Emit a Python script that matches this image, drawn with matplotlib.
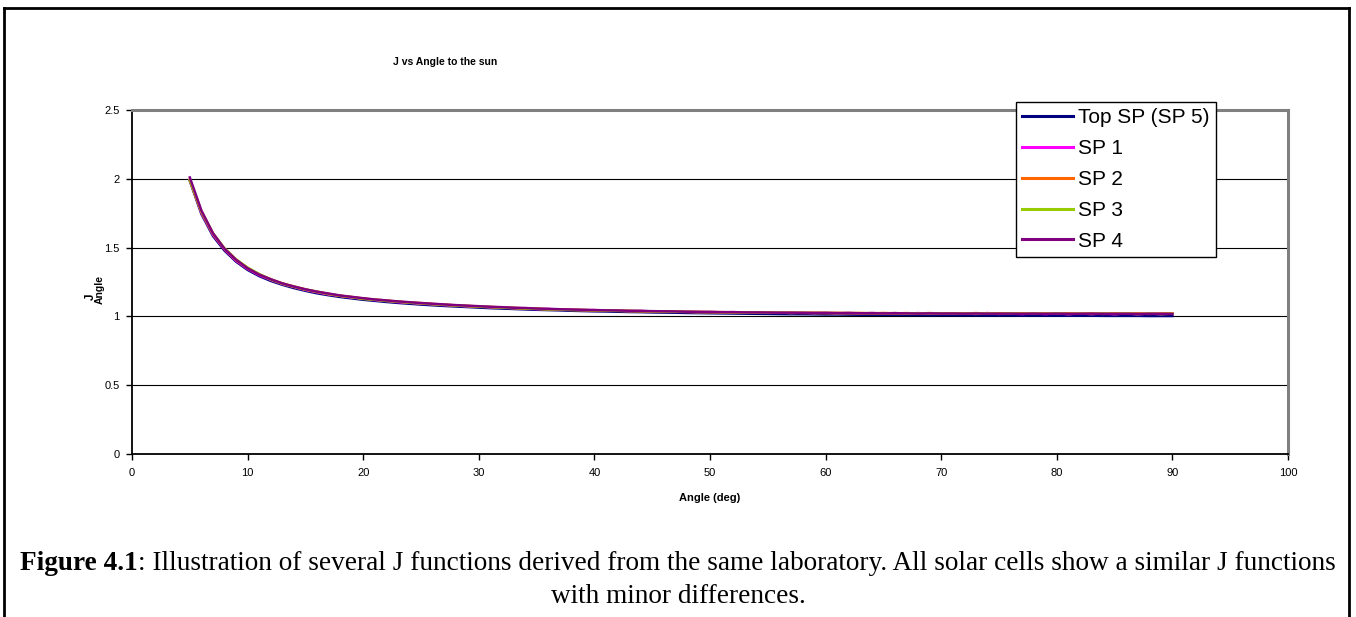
import matplotlib
matplotlib.use("Agg")
import matplotlib.pyplot as plt
from matplotlib.lines import Line2D

plt.rcParams['font.family'] = ['Liberation Sans', 'DejaVu Sans']

angles = list(range(5, 91))

top_sp = [1.985, 1.745, 1.585, 1.478, 1.398, 1.338, 1.293, 1.258, 1.230, 1.206,
          1.186, 1.168, 1.154, 1.141, 1.131, 1.121, 1.113, 1.105, 1.098, 1.092,
          1.086, 1.081, 1.076, 1.072, 1.068, 1.064, 1.060, 1.057, 1.054, 1.051,
          1.048, 1.046, 1.044, 1.041, 1.039, 1.037, 1.036, 1.034, 1.032, 1.031,
          1.029, 1.028, 1.027, 1.025, 1.024, 1.023, 1.022, 1.021, 1.020, 1.019,
          1.018, 1.017, 1.016, 1.016, 1.015, 1.014, 1.014, 1.013, 1.012, 1.012,
          1.011, 1.011, 1.010, 1.010, 1.009, 1.009, 1.008, 1.008, 1.008, 1.007,
          1.007, 1.007, 1.006, 1.006, 1.006, 1.005, 1.005, 1.005, 1.005, 1.004,
          1.004, 1.004, 1.004, 1.003, 1.003, 1.003]

sp1 = [1.995, 1.755, 1.595, 1.487, 1.405, 1.346, 1.300, 1.266, 1.236, 1.214,
       1.192, 1.176, 1.160, 1.149, 1.137, 1.130, 1.119, 1.113, 1.104, 1.100,
       1.092, 1.089, 1.082, 1.080, 1.073, 1.072, 1.066, 1.065, 1.060, 1.059,
       1.053, 1.054, 1.049, 1.049, 1.045, 1.046, 1.041, 1.042, 1.038, 1.040,
       1.035, 1.037, 1.033, 1.034, 1.031, 1.033, 1.029, 1.031, 1.027, 1.030,
       1.026, 1.028, 1.025, 1.027, 1.024, 1.027, 1.022, 1.026, 1.021, 1.025,
       1.021, 1.024, 1.020, 1.024, 1.019, 1.023, 1.019, 1.023, 1.018, 1.024,
       1.018, 1.022, 1.017, 1.023, 1.017, 1.022, 1.016, 1.022, 1.017, 1.021,
       1.016, 1.022, 1.016, 1.021, 1.017, 1.021]

sp2 = [1.990, 1.760, 1.600, 1.492, 1.410, 1.350, 1.305, 1.270, 1.240, 1.218,
       1.196, 1.178, 1.164, 1.150, 1.141, 1.130, 1.122, 1.116, 1.107, 1.101,
       1.097, 1.090, 1.086, 1.080, 1.077, 1.072, 1.069, 1.064, 1.062, 1.058,
       1.056, 1.052, 1.051, 1.047, 1.047, 1.043, 1.043, 1.040, 1.040, 1.037,
       1.037, 1.034, 1.035, 1.032, 1.033, 1.030, 1.031, 1.029, 1.030, 1.027,
       1.028, 1.026, 1.027, 1.025, 1.027, 1.024, 1.026, 1.023, 1.025, 1.022,
       1.025, 1.022, 1.024, 1.021, 1.024, 1.021, 1.023, 1.020, 1.024, 1.020,
       1.023, 1.020, 1.023, 1.019, 1.022, 1.019, 1.023, 1.019, 1.022, 1.018,
       1.022, 1.019, 1.022, 1.018, 1.021, 1.022]

sp3 = [1.992, 1.765, 1.605, 1.495, 1.415, 1.355, 1.308, 1.268, 1.238, 1.215,
       1.195, 1.180, 1.163, 1.150, 1.140, 1.127, 1.121, 1.112, 1.108, 1.099,
       1.095, 1.089, 1.084, 1.079, 1.075, 1.070, 1.068, 1.063, 1.061, 1.057,
       1.055, 1.051, 1.050, 1.047, 1.046, 1.044, 1.042, 1.041, 1.039, 1.039,
       1.036, 1.036, 1.034, 1.034, 1.031, 1.032, 1.030, 1.030, 1.028, 1.029,
       1.026, 1.028, 1.025, 1.027, 1.024, 1.026, 1.023, 1.025, 1.023, 1.024,
       1.022, 1.024, 1.021, 1.023, 1.021, 1.023, 1.020, 1.022, 1.020, 1.022,
       1.019, 1.022, 1.019, 1.021, 1.019, 1.022, 1.018, 1.021, 1.018, 1.022,
       1.018, 1.021, 1.017, 1.021, 1.017, 1.020]

sp4 = [2.010, 1.770, 1.605, 1.492, 1.412, 1.350, 1.304, 1.270, 1.240, 1.217,
       1.197, 1.180, 1.166, 1.152, 1.142, 1.132, 1.123, 1.116, 1.109, 1.103,
       1.097, 1.092, 1.087, 1.082, 1.078, 1.074, 1.070, 1.067, 1.063, 1.061,
       1.057, 1.055, 1.052, 1.050, 1.048, 1.046, 1.044, 1.043, 1.041, 1.040,
       1.038, 1.037, 1.036, 1.034, 1.033, 1.032, 1.031, 1.031, 1.029, 1.029,
       1.028, 1.027, 1.027, 1.026, 1.025, 1.025, 1.024, 1.024, 1.023, 1.023,
       1.022, 1.023, 1.022, 1.021, 1.022, 1.021, 1.021, 1.020, 1.021, 1.020,
       1.020, 1.020, 1.019, 1.020, 1.019, 1.020, 1.019, 1.019, 1.020, 1.019,
       1.019, 1.019, 1.018, 1.019, 1.019, 1.018]

series_names = ["Top SP (SP 5)", "SP 1", "SP 2", "SP 3", "SP 4"]
series_values = [top_sp, sp1, sp2, sp3, sp4]
series_colors = ["#000080", "#FF00FF", "#FF6600", "#99CC00", "#800080"]

x_ticks = [0, 10, 20, 30, 40, 50, 60, 70, 80, 90, 100]
y_ticks = [0, 0.5, 1, 1.5, 2, 2.5]
y_tick_labels = ["0", "0.5", "1", "1.5", "2", "2.5"]

W, H = 1356, 617
fig = plt.figure(figsize=(W / 100, H / 100), dpi=100)
fig.patch.set_facecolor("white")

ax = fig.add_axes([132 / W, (H - 454) / H, (1288 - 132) / W, (454 - 110) / H])

lines = []
for name, vals, col in zip(series_names, series_values, series_colors):
    ln, = ax.plot(angles, vals, color=col, lw=1.8, label=name, zorder=3)
    lines.append(ln)

ax.set_xlim(0, 100)
ax.set_ylim(0, 2.5)
ax.set_xticks(x_ticks)
ax.set_xticklabels([str(t) for t in x_ticks])
ax.set_yticks(y_ticks)
ax.set_yticklabels(y_tick_labels)
ax.tick_params(axis="both", labelsize=8, direction="out", length=4, width=1, colors="black")
ax.tick_params(axis="x", pad=6)
ax.tick_params(axis="y", pad=5)

for yv in [0.5, 1, 1.5, 2]:
    ax.axhline(yv, color="black", lw=0.8, zorder=1)

ax.spines["left"].set_color("black")
ax.spines["left"].set_linewidth(1.3)
ax.spines["bottom"].set_color("black")
ax.spines["bottom"].set_linewidth(1.3)
ax.spines["top"].set_color("#808080")
ax.spines["top"].set_linewidth(2.2)
ax.spines["right"].set_color("#808080")
ax.spines["right"].set_linewidth(2.2)

# axis labels
fig.text(710 / W, 1 - 498 / H, "Angle (deg)", fontsize=8, fontweight="bold",
         ha="center", va="center")
fig.text(91 / W, 1 - 297 / H, "J", fontsize=8.5, fontweight="bold",
         rotation=90, ha="center", va="center")
fig.text(100 / W, 1 - 289 / H, "Angle", fontsize=7.5, fontweight="bold",
         rotation=90, ha="center", va="center")

fig.text(445 / W, 1 - 62 / H, "J vs Angle to the sun", fontsize=7.5,
         fontweight="bold", ha="center", va="center")

leg = fig.legend(handles=lines, labels=series_names, loc="upper left",
                 bbox_to_anchor=(1016 / W, 1 - 102 / H), fontsize=15,
                 frameon=True, fancybox=False, framealpha=1, edgecolor="black",
                 handlelength=2.45, handletextpad=0.25, labelspacing=0.57,
                 borderpad=0.3, borderaxespad=0)
leg.get_frame().set_linewidth(1.0)
for lh in leg.get_lines():
    lh.set_linewidth(2.2)

# caption
serif = ["Liberation Serif", "DejaVu Serif"]
renderer = fig.canvas.get_renderer()
bold_part = "Figure 4.1"
rest_part = ": Illustration of several J functions derived from the same laboratory. All solar cells show a similar J functions"
cap_size = 19.6
t1 = fig.text(0, 1 - 570 / H, bold_part, fontsize=cap_size, fontweight="bold",
              family=serif, ha="left", va="baseline")
t2 = fig.text(0, 1 - 570 / H, rest_part, fontsize=cap_size, family=serif,
              ha="left", va="baseline")
w1 = t1.get_window_extent(renderer).width
w2 = t2.get_window_extent(renderer).width
x0 = (678 - (w1 + w2) / 2) / W
t1.set_x(x0)
t2.set_x(x0 + w1 / W)
fig.text(678 / W, 1 - 603 / H, "with minor differences.", fontsize=cap_size,
         family=serif, ha="center", va="baseline")

# figure frame
for xs, ys in [([4 / W, 4 / W], [0, 1 - 8 / H]),
               ([4 / W, 1349 / W], [1 - 8 / H, 1 - 8 / H]),
               ([1349 / W, 1349 / W], [0, 1 - 8 / H])]:
    fig.add_artist(Line2D(xs, ys, color="black", lw=2, transform=fig.transFigure))

fig.savefig("out.png", dpi=100, facecolor="white")
